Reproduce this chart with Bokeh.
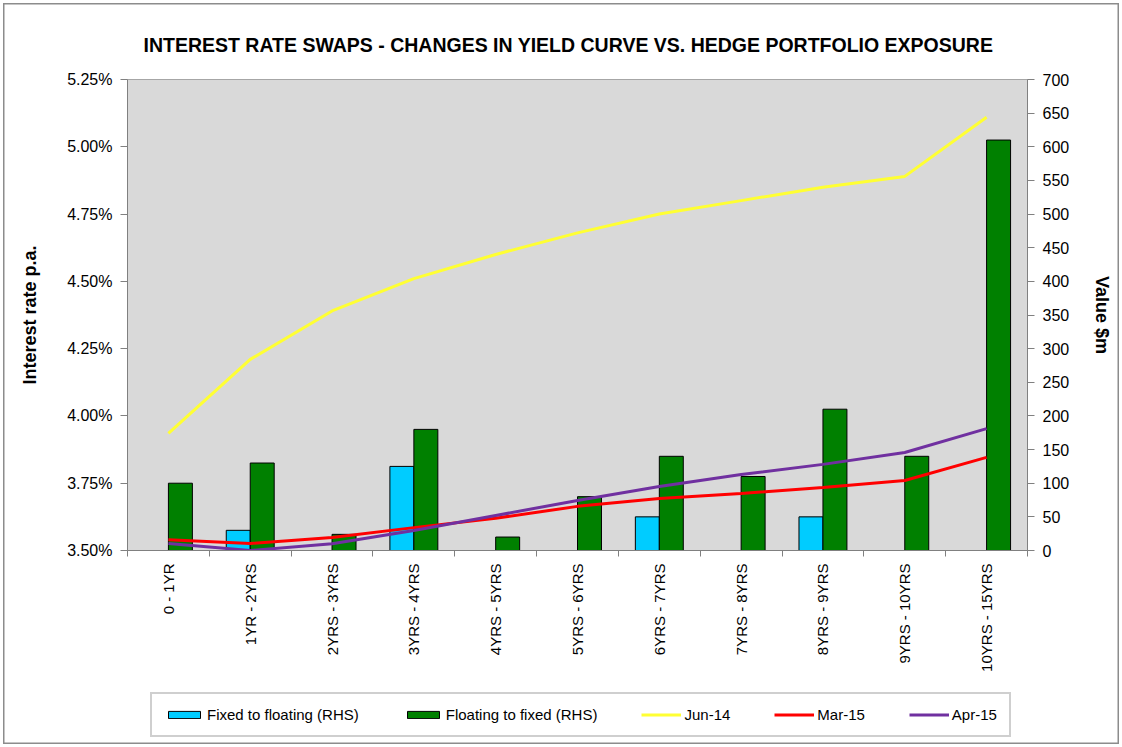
import math
from bokeh.plotting import figure
from bokeh.layouts import column
from bokeh.models import (Range1d, LinearAxis, FixedTicker, PrintfTickFormatter,
                          Legend, LegendItem, ColumnDataSource)
from bokeh.transform import dodge
from bokeh.embed import file_html
from bokeh.resources import INLINE

# ---------------- data ----------------
categories = ["0 - 1YR", "1YR - 2YRS", "2YRS - 3YRS", "3YRS - 4YRS", "4YRS - 5YRS",
              "5YRS - 6YRS", "6YRS - 7YRS", "7YRS - 8YRS", "8YRS - 9YRS",
              "9YRS - 10YRS", "10YRS - 15YRS"]
fixed_to_floating = [None, 30, None, 125, None, None, 50, None, 50, None, None]
floating_to_fixed = [100, 130, 24, 180, 20, 80, 140, 110, 210, 140, 610]
jun_14 = [3.935, 4.21, 4.39, 4.51, 4.60, 4.68, 4.75, 4.80, 4.85, 4.89, 5.11]
mar_15 = [3.54, 3.526, 3.548, 3.585, 3.62, 3.664, 3.693, 3.712, 3.734, 3.76, 3.846]
apr_15 = [3.526, 3.50, 3.525, 3.574, 3.63, 3.686, 3.738, 3.782, 3.82, 3.864, 3.953]
left_ticks = [3.50, 3.75, 4.00, 4.25, 4.50, 4.75, 5.00, 5.25]
right_ticks = [0, 50, 100, 150, 200, 250, 300, 350, 400, 450, 500, 550, 600, 650, 700]
series_labels = ["Fixed to floating (RHS)", "Floating to fixed (RHS)", "Jun-14", "Mar-15", "Apr-15"]

title_text = "INTEREST RATE SWAPS - CHANGES IN YIELD CURVE VS. HEDGE PORTFOLIO EXPOSURE"

FONT = "Liberation Sans"
AXIS_GRAY = "#808080"
BLUE, GREEN, YELLOW, RED, PURPLE = "#00ccff", "#008000", "#ffff33", "#ff0000", "#7030a0"

n = len(categories)
xs = list(range(n))
src = ColumnDataSource(dict(
    x=xs,
    fixed=[float("nan") if v is None else v for v in fixed_to_floating],
    floating=floating_to_fixed,
    jun=jun_14, mar=mar_15, apr=apr_15,
))

p = figure(width=1122, height=680, output_backend="svg", toolbar_location=None,
           x_range=Range1d(-0.5, n - 0.5), y_range=Range1d(3.5, 5.25),
           min_border_left=127, min_border_right=95, min_border_top=79,
           min_border_bottom=130)
p.extra_y_ranges = {"rhs": Range1d(0, 700)}

p.background_fill_color = "#d9d9d9"
p.border_fill_alpha = 0
p.outline_line_color = "#a6a6a6"
p.xgrid.visible = False
p.ygrid.visible = False

# title
p.title.text = title_text
p.title.text_font = FONT
p.title.text_font_style = "bold"
p.title.text_font_size = "19.5px"
p.title.text_color = "black"
p.title.align = "left"
p.title.offset = 16
p.title.standoff = 47

# bars (RHS)
bw = 0.293
r_fixed = p.vbar(x=dodge("x", -bw / 2, range=p.x_range), top="fixed", bottom=0, width=bw,
                 source=src, y_range_name="rhs", fill_color=BLUE,
                 line_color="black", line_width=1)
r_float = p.vbar(x=dodge("x", bw / 2, range=p.x_range), top="floating", bottom=0, width=bw,
                 source=src, y_range_name="rhs", fill_color=GREEN,
                 line_color="black", line_width=1)

# lines (LHS)
p.line("x", "jun", source=src, line_color=YELLOW, line_width=3)
p.line("x", "mar", source=src, line_color=RED, line_width=3)
p.line("x", "apr", source=src, line_color=PURPLE, line_width=3)

# left axis
ya = p.yaxis[0]
ya.ticker = FixedTicker(ticks=left_ticks, minor_ticks=[])
ya.formatter = PrintfTickFormatter(format="%.2f%%")
ya.axis_label = "Interest rate p.a."

# right axis
ra = LinearAxis(y_range_name="rhs", ticker=FixedTicker(ticks=right_ticks, minor_ticks=[]),
                axis_label="Value $m")
p.add_layout(ra, "right")

for ax in (ya, ra):
    ax.axis_line_color = AXIS_GRAY
    ax.major_tick_line_color = AXIS_GRAY
    ax.major_tick_out = 7
    ax.major_tick_in = 0
    ax.minor_tick_line_color = None
    ax.major_label_text_font = FONT
    ax.major_label_text_font_size = "16px"
    ax.major_label_text_color = "black"
    ax.major_label_standoff = 8
    ax.axis_label_text_font = FONT
    ax.axis_label_text_font_style = "bold"
    ax.axis_label_text_font_size = "18px"
    ax.axis_label_text_color = "black"
ya.axis_label_standoff = 24
ra.axis_label_standoff = 20

# bottom axis: labels at centres, ticks between categories
xa = p.xaxis[0]
xa.ticker = FixedTicker(ticks=xs, minor_ticks=[i - 0.5 for i in range(n + 1)])
xa.major_label_overrides = {i: c for i, c in enumerate(categories)}
xa.major_label_orientation = math.pi / 2
xa.major_tick_out = 0
xa.major_tick_in = 0
xa.minor_tick_out = 6
xa.minor_tick_in = 0
xa.minor_tick_line_color = AXIS_GRAY
xa.axis_line_color = AXIS_GRAY
xa.major_label_text_font = FONT
xa.major_label_text_font_size = "15px"
xa.major_label_text_color = "black"
xa.major_label_standoff = 7

# ---------------- legend strip ----------------
# same series drawn against ranges that keep them out of view; only the legend shows
lf = figure(width=1122, height=67, output_backend="svg", toolbar_location=None,
            x_range=Range1d(1000, 1001), y_range=Range1d(1000, 1001),
            x_axis_location=None, y_axis_location=None, min_border=0)
lf.grid.visible = False
lf.outline_line_color = None
lf.background_fill_alpha = 0
lf.border_fill_alpha = 0
g_fixed = lf.vbar(x="x", top="fixed", width=bw, source=src, fill_color=BLUE, line_color="black")
g_float = lf.vbar(x="x", top="floating", width=bw, source=src, fill_color=GREEN, line_color="black")
g_jun = lf.line("x", "jun", source=src, line_color=YELLOW, line_width=3)
g_mar = lf.line("x", "mar", source=src, line_color=RED, line_width=3)
g_apr = lf.line("x", "apr", source=src, line_color=PURPLE, line_width=3)

legend = Legend(items=[
    LegendItem(label=lab, renderers=[r])
    for lab, r in zip(series_labels, [g_fixed, g_float, g_jun, g_mar, g_apr])
], orientation="horizontal", location=(23, 10), padding=12, margin=0,
    spacing=44, glyph_width=40, glyph_height=9, label_standoff=3,
    label_text_font=FONT, label_text_font_size="15px", label_text_color="black",
    border_line_color="#a0a0a0", border_line_width=2,
    background_fill_color="white")
lf.add_layout(legend)

layout = column(p, lf, spacing=0, styles={
    "background-color": "white",
    "box-shadow": "inset 0 0 0 3px white, inset 0 0 0 4.5px #8c8c8c",
})

open("out.html", "w").write(file_html(layout, INLINE))
